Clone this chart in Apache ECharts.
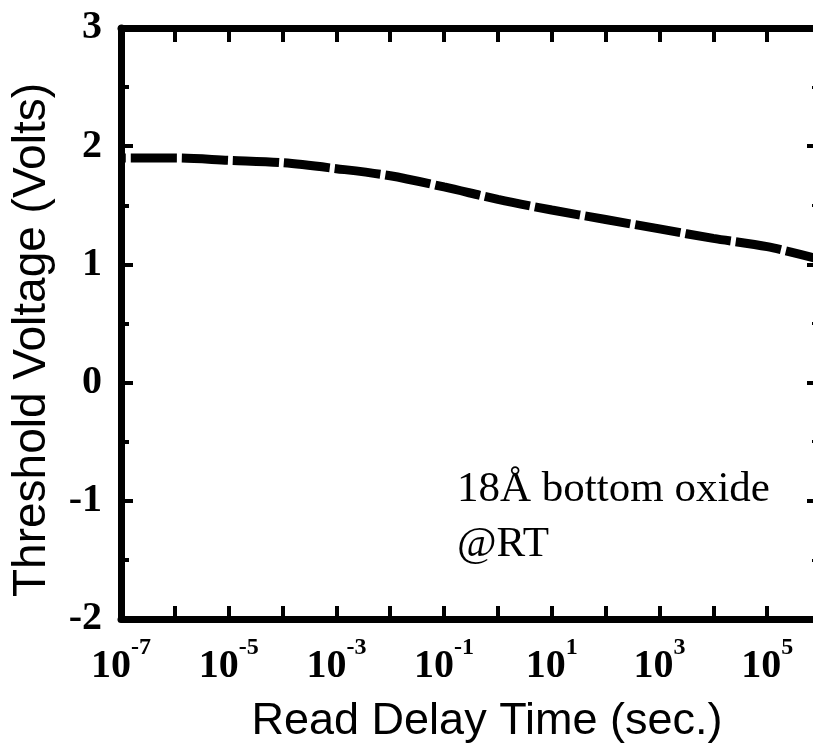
<!DOCTYPE html>
<html><head><meta charset="utf-8">
<script src="https://cdn.jsdelivr.net/npm/echarts@6/dist/echarts.min.js"></script>
<style>html,body{margin:0;padding:0;background:#fff}#c{width:813px;height:748px}</style>
</head><body><div id="c"></div>
<script>
// log10 of read delay time (seconds)
const logDelayTime = [-7, -6, -5, -4, -3, -2, -1, 0, 1, 2, 3, 4, 5, 6];
// threshold voltage (V)
const thresholdVoltage = [1.90, 1.90, 1.88, 1.86, 1.81, 1.75, 1.655, 1.55, 1.46, 1.38, 1.30, 1.22, 1.15, 1.04];
// decades that carry a tick label
const xLabelExponents = [-7, -5, -3, -1, 1, 3, 5];
const xTitle = 'Read Delay Time (sec.)';
const yTitle = 'Threshold Voltage (Volts)';
const annotationLines = ['18Å bottom oxide', '@RT'];

const serif = '"Liberation Serif", "Times New Roman", serif';
const sans = '"Liberation Sans", Arial, sans-serif';
const AX = 7;

const chart = echarts.init(document.getElementById('c'), null, {renderer: 'canvas'});
chart.setOption({
  animation: false,
  backgroundColor: '#fff',
  grid: {left: 121, right: -8, top: 28, bottom: 129, containLabel: false, outerBoundsMode: 'none'},
  xAxis: [{
    type: 'value', position: 'bottom', min: -7, max: 6, interval: 1,
    axisLine: {show: true, onZero: false, lineStyle: {color: '#000', width: AX}},
    axisTick: {show: true, inside: true, length: 13, lineStyle: {color: '#000', width: 4}},
    splitLine: {show: false},
    axisLabel: {
      margin: 17,
      formatter: v => xLabelExponents.includes(Math.round(v)) ? '{b|10}{s|' + Math.round(v) + '}' : '',
      rich: {
        b: {fontFamily: serif, fontWeight: 'bold', fontSize: 40, lineHeight: 51, verticalAlign: 'bottom', color: '#000'},
        s: {fontFamily: serif, fontWeight: 'bold', fontSize: 24, lineHeight: 24, verticalAlign: 'top', color: '#000'}
      }
    },
    name: xTitle, nameLocation: 'middle', nameGap: 103,
    nameTextStyle: {fontFamily: sans, fontSize: 45, color: '#000', verticalAlign: 'middle', align: 'center', padding: [0, 0, 0, 32]}
  }, {
    type: 'value', position: 'top', min: -7, max: 6, interval: 1,
    axisLine: {show: true, onZero: false, lineStyle: {color: '#000', width: AX}},
    axisTick: {show: true, inside: true, length: 14, lineStyle: {color: '#000', width: 4}},
    splitLine: {show: false}, axisLabel: {show: false}
  }],
  yAxis: [{
    type: 'value', position: 'left', min: -2, max: 3, interval: 1,
    axisLine: {show: true, onZero: false, lineStyle: {color: '#000', width: AX}},
    axisTick: {show: true, inside: true, length: 12, lineStyle: {color: '#000', width: 4}},
    minorTick: {show: true, splitNumber: 2, length: 8, lineStyle: {color: '#000', width: 4}},
    splitLine: {show: false},
    axisLabel: {margin: 19, fontFamily: serif, fontWeight: 'bold', fontSize: 40, color: '#000'},
    name: yTitle, nameLocation: 'middle', nameGap: 89, nameRotate: 90,
    nameTextStyle: {fontFamily: sans, fontSize: 46, color: '#000', verticalAlign: 'middle', align: 'center', padding: [0, 33, 0, 0]}
  }, {
    type: 'value', position: 'right', min: -2, max: 3, interval: 1,
    axisLine: {show: true, onZero: false, lineStyle: {color: '#000', width: AX}},
    axisTick: {show: true, inside: true, length: 14, lineStyle: {color: '#000', width: 4}},
    minorTick: {show: true, splitNumber: 2, length: 9, lineStyle: {color: '#000', width: 3}},
    splitLine: {show: false}, axisLabel: {show: false}
  }],
  series: [{
    type: 'line', xAxisIndex: 0, yAxisIndex: 0,
    data: logDelayTime.map((t, i) => [t, thresholdVoltage[i]]),
    symbol: 'none', smooth: 0.3,
    lineStyle: {color: '#000', width: 9, type: [46, 5], dashOffset: 41, cap: 'butt'}
  }],
  graphic: [
    {type: 'text', x: 457, y: 490, style: {text: annotationLines[0], fontFamily: serif, fontSize: 43, fill: '#000', verticalAlign: 'middle', align: 'left'}},
    {type: 'text', x: 457, y: 545, style: {text: annotationLines[1], fontFamily: serif, fontSize: 43, fill: '#000', verticalAlign: 'middle', align: 'left'}}
  ]
});
</script></body></html>
